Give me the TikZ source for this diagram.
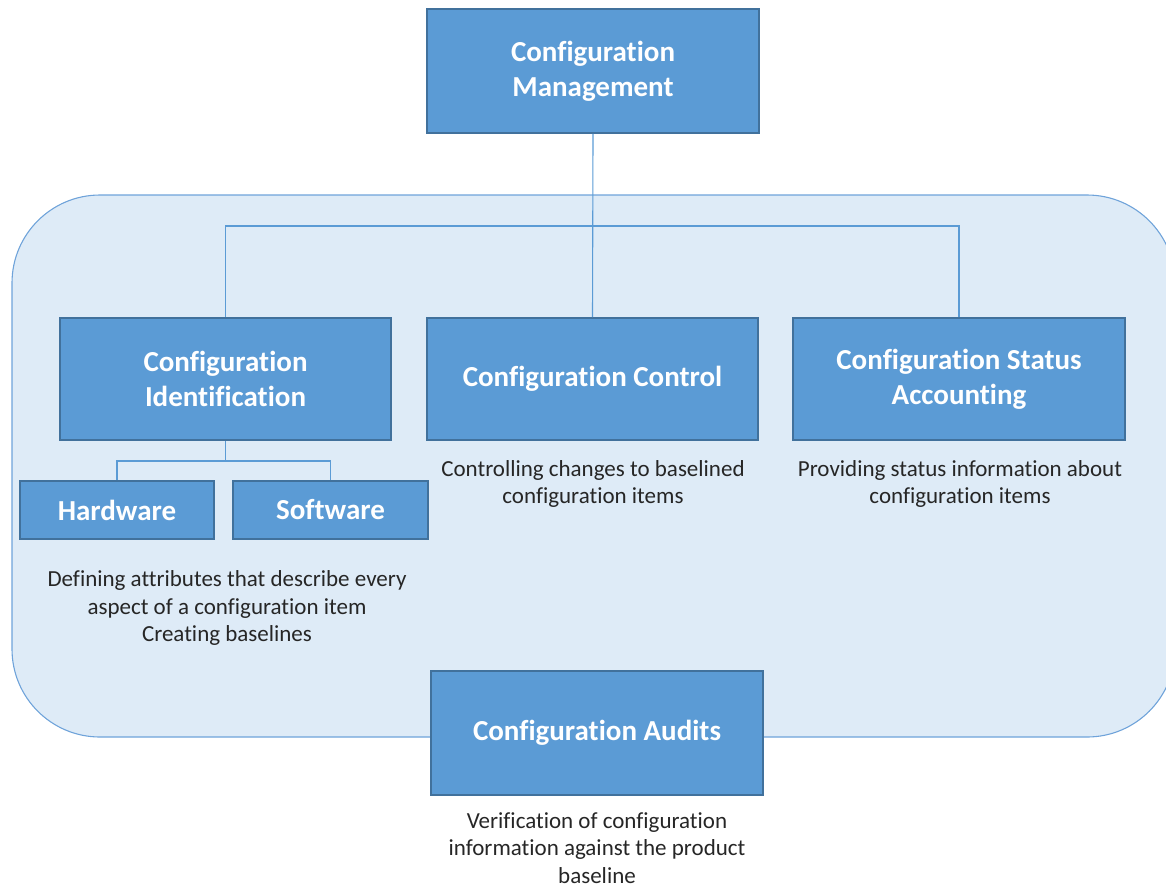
\documentclass[tikz,border=0pt]{standalone}
\usepackage{fontspec}
\setmainfont{Carlito}[Ligatures=NoCommon]
\definecolor{boxfill}{HTML}{5B9BD5}
\definecolor{boxline}{HTML}{41719C}
\definecolor{bgfill}{HTML}{DEEBF7}
\definecolor{bgline}{HTML}{6FA3DA}
\definecolor{txt}{HTML}{262626}
\tikzset{
  bluebox/.style={draw=boxline, fill=boxfill, line width=1.6pt, align=center, text=white,
    font=\fontsize{29}{35}\selectfont\bfseries, inner sep=0pt},
  desc/.style={align=center, text=txt, font=\fontsize{23}{27.5}\selectfont, inner sep=0pt},
  conn/.style={draw=boxfill, line width=1.1pt}
}
\begin{document}
\begin{tikzpicture}[x=1pt,y=-1pt]
\useasboundingbox (0,0) rectangle (1166,887);
\clip (0,0) rectangle (1166,887);
\draw[draw=bgline, fill=bgfill, line width=1.1pt, rounded corners=88pt] (12,195) rectangle (1175,737);

\node[bluebox, minimum width=332pt, minimum height=124pt] (cm) at (593,71) {Configuration\\Management};
\node[bluebox, minimum width=331pt, minimum height=122pt] (ci) at (225.5,379) {Configuration\\Identification};
\node[bluebox, minimum width=331pt, minimum height=122pt] (cc) at (592.5,379) {Configuration Control};
\node[bluebox, minimum width=332pt, minimum height=122pt] (csa) at (959,379) {Configuration Status\\Accounting};
\node[bluebox, minimum width=194pt, minimum height=58pt] (hw) at (117,510) {Hardware};
\node[bluebox, minimum width=195pt, minimum height=58pt] (sw) at (330.5,510) {Software};
\node[bluebox, minimum width=332pt, minimum height=124pt] (ca) at (597,733) {Configuration Audits};

\coordinate (bus) at (593,226);
\coordinate (hwbus) at (225.5,461);
\draw[conn] (cm.south) -- (cc.north);
\draw[conn] (ci.north) |- (bus) -| (csa.north);
\draw[conn] (ci.south) -- (hwbus);
\draw[conn] (hw.north) |- (hwbus) -| (sw.north);

\node[desc] (dci) at (227,608) {Defining attributes that describe every\\aspect of a configuration item\\Creating baselines};
\node[desc] (dcc) at (593,484) {Controlling changes to baselined\\configuration items};
\node[desc] (dcsa) at (960,484) {Providing status information about\\configuration items};
\node[desc] (dca) at (597,848) {Verification of configuration\\information against the product\\baseline};
\end{tikzpicture}
\end{document}
